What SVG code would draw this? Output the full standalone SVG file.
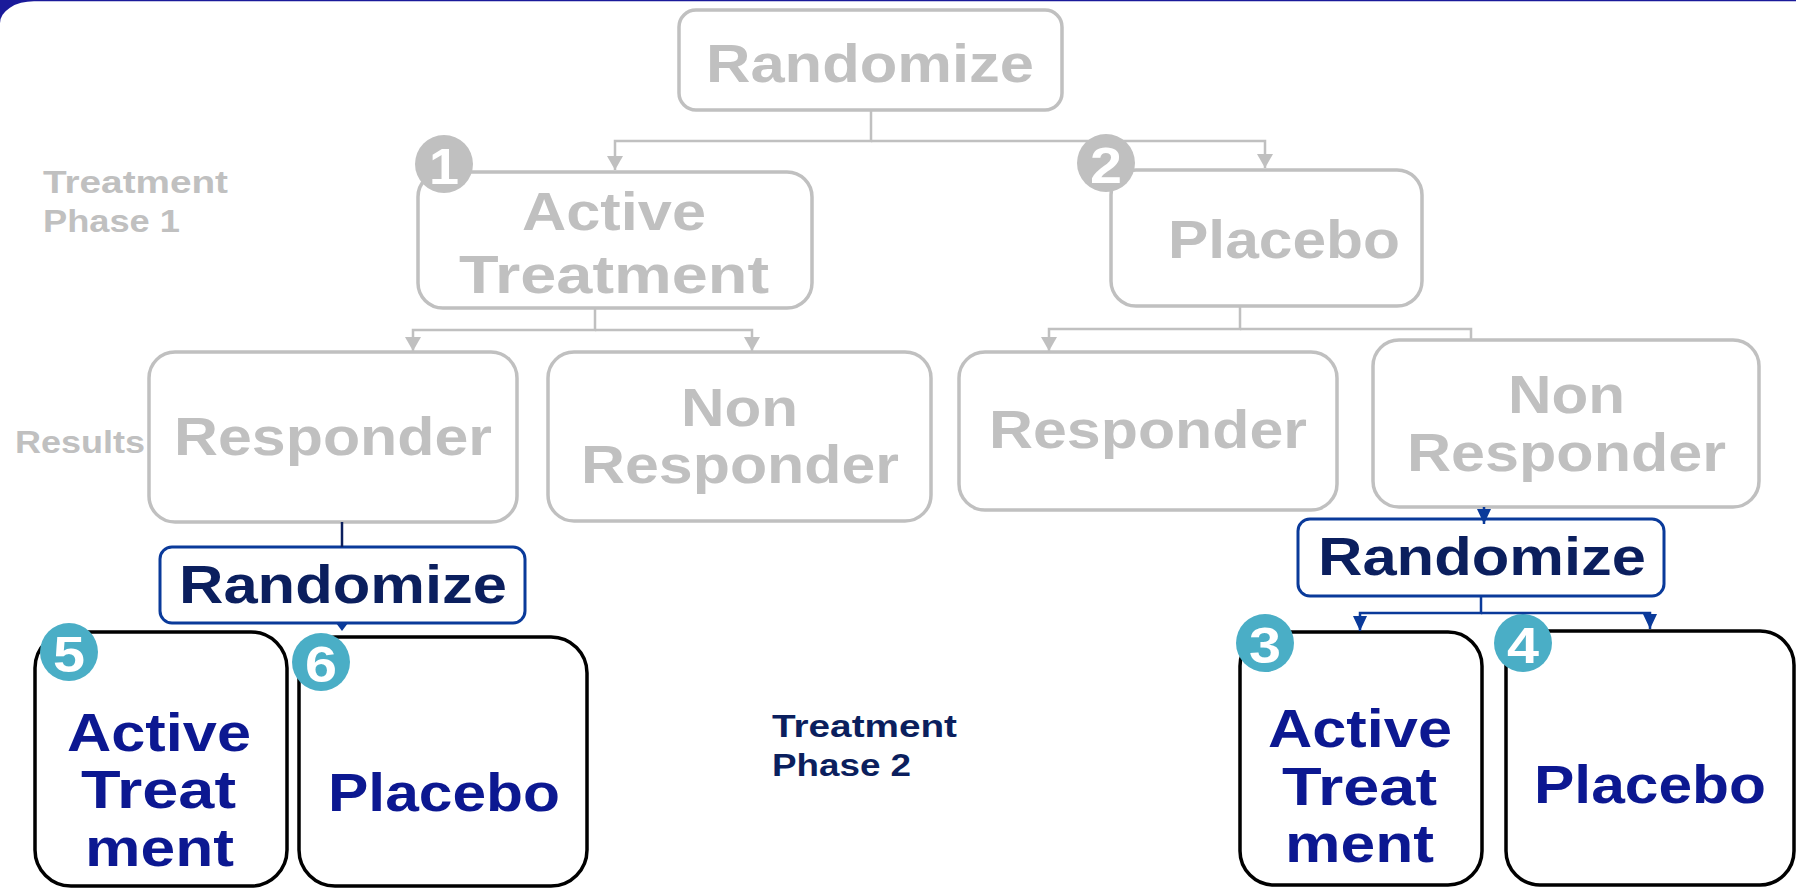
<svg xmlns="http://www.w3.org/2000/svg" width="1796" height="889" viewBox="0 0 1796 889">
<defs>
<style>
.gbox{fill:#fff;stroke:#c0c0c0;stroke-width:3.5}
.bbox{fill:#fff;stroke:#0a3a9a;stroke-width:3}
.kbox{fill:#fff;stroke:#000;stroke-width:3.5}
.t{font-family:"Liberation Sans",Arial,sans-serif;font-weight:bold;font-size:53px}
.g{fill:#c0c0c0}
.nv{fill:#0b1f5e}
.bl{fill:#0c1891}
.lbl{font-family:"Liberation Sans",Arial,sans-serif;font-weight:bold;font-size:32px}
.num{font-family:"Liberation Sans",Arial,sans-serif;font-weight:bold;font-size:50px;fill:#fff;text-anchor:middle}
.gc{fill:none;stroke:#c0c0c0;stroke-width:2.5}
.bc{fill:none;stroke:#0a3a9a;stroke-width:2.5}
</style>
<marker id="ag" markerUnits="userSpaceOnUse" markerWidth="16" markerHeight="14" refX="8" refY="14" orient="0" viewBox="0 0 16 14">
<path d="M0 0 L16 0 L8 14 Z" fill="#c0c0c0"/>
</marker>
<marker id="ab" markerUnits="userSpaceOnUse" markerWidth="14" markerHeight="15" refX="7" refY="15" viewBox="0 0 14 15" orient="0">
<path d="M0 0 L14 0 L7 15 Z" fill="#0a3a9a"/>
</marker>
</defs>

<rect x="0" y="0" width="1796" height="889" fill="#1a1a9a"/>
<rect x="0" y="1.2" width="1900" height="1000" rx="34" ry="22" fill="#fff"/>

<g id="labels">
<text class="lbl g" x="43" y="193" textLength="185" lengthAdjust="spacingAndGlyphs">Treatment</text>
<text class="lbl g" x="43" y="232" textLength="137" lengthAdjust="spacingAndGlyphs">Phase 1</text>
<text class="lbl g" x="15" y="453" font-size="30" textLength="130" lengthAdjust="spacingAndGlyphs">Results</text>
<text class="lbl nv" x="772" y="737" textLength="185" lengthAdjust="spacingAndGlyphs">Treatment</text>
<text class="lbl nv" x="772" y="776" textLength="139" lengthAdjust="spacingAndGlyphs">Phase 2</text>
</g>

<g id="randomize-top">
<rect class="gbox" x="679" y="10" width="383" height="100" rx="17"/>
<text class="t g" x="706" y="82" textLength="328" lengthAdjust="spacingAndGlyphs">Randomize</text>
</g>

<g id="active-treatment-1">
<rect class="gbox" x="418" y="172" width="394" height="136" rx="25"/>
<text class="t g" x="522" y="230" textLength="184" lengthAdjust="spacingAndGlyphs">Active</text>
<text class="t g" x="459" y="293" textLength="310" lengthAdjust="spacingAndGlyphs">Treatment</text>
<circle cx="444" cy="164" r="29" fill="#c0c0c0"/>
<text class="num" x="444" y="184" textLength="30" lengthAdjust="spacingAndGlyphs">1</text>
</g>

<g id="placebo-1">
<rect class="gbox" x="1111" y="170" width="311" height="136" rx="25"/>
<text class="t g" x="1168" y="258" textLength="232" lengthAdjust="spacingAndGlyphs">Placebo</text>
<circle cx="1106" cy="163" r="29" fill="#c0c0c0"/>
<text class="num" x="1106" y="183" textLength="32" lengthAdjust="spacingAndGlyphs">2</text>
</g>

<g id="responder-left">
<rect class="gbox" x="149" y="352" width="368" height="170" rx="26"/>
<text class="t g" x="174" y="455" textLength="318" lengthAdjust="spacingAndGlyphs">Responder</text>
</g>

<g id="non-responder-left">
<rect class="gbox" x="548" y="352" width="383" height="169" rx="26"/>
<text class="t g" x="681" y="426" textLength="117" lengthAdjust="spacingAndGlyphs">Non</text>
<text class="t g" x="581" y="483" textLength="318" lengthAdjust="spacingAndGlyphs">Responder</text>
</g>

<g id="responder-right">
<rect class="gbox" x="959" y="352" width="378" height="158" rx="26"/>
<text class="t g" x="989" y="448" textLength="318" lengthAdjust="spacingAndGlyphs">Responder</text>
</g>

<g id="non-responder-right">
<rect class="gbox" x="1373" y="340" width="386" height="167" rx="26"/>
<text class="t g" x="1508" y="413" textLength="117" lengthAdjust="spacingAndGlyphs">Non</text>
<text class="t g" x="1407" y="471" textLength="319" lengthAdjust="spacingAndGlyphs">Responder</text>
</g>

<g id="randomize-left">
<rect class="bbox" x="160" y="547" width="365" height="76" rx="12"/>
<text class="t nv" x="179" y="603" textLength="328" lengthAdjust="spacingAndGlyphs">Randomize</text>
</g>

<g id="randomize-right">
<rect class="bbox" x="1298" y="519" width="366" height="77" rx="12"/>
<text class="t nv" x="1318" y="575" textLength="328" lengthAdjust="spacingAndGlyphs">Randomize</text>
</g>

<g id="active-treatment-5">
<rect class="kbox" x="35" y="632" width="252" height="254" rx="36"/>
<text class="t bl" x="67" y="751" textLength="184" lengthAdjust="spacingAndGlyphs">Active</text>
<text class="t bl" x="81" y="808" textLength="155" lengthAdjust="spacingAndGlyphs">Treat</text>
<text class="t bl" x="85" y="866" textLength="149" lengthAdjust="spacingAndGlyphs">ment</text>
<circle cx="69" cy="652" r="29" fill="#4aaec6"/>
<text class="num" x="69" y="672" textLength="32" lengthAdjust="spacingAndGlyphs">5</text>
</g>

<g id="placebo-6">
<rect class="kbox" x="299" y="637" width="288" height="249" rx="36"/>
<text class="t bl" x="328" y="811" textLength="232" lengthAdjust="spacingAndGlyphs">Placebo</text>
<circle cx="321" cy="662" r="29" fill="#4aaec6"/>
<text class="num" x="321" y="682" textLength="32" lengthAdjust="spacingAndGlyphs">6</text>
</g>

<g id="active-treatment-3">
<rect class="kbox" x="1240" y="632" width="242" height="253" rx="34"/>
<text class="t bl" x="1268" y="747" textLength="184" lengthAdjust="spacingAndGlyphs">Active</text>
<text class="t bl" x="1282" y="805" textLength="155" lengthAdjust="spacingAndGlyphs">Treat</text>
<text class="t bl" x="1285" y="862" textLength="149" lengthAdjust="spacingAndGlyphs">ment</text>
<circle cx="1265" cy="643" r="29" fill="#4aaec6"/>
<text class="num" x="1265" y="663" textLength="32" lengthAdjust="spacingAndGlyphs">3</text>
</g>

<g id="placebo-4">
<rect class="kbox" x="1506" y="631" width="288" height="254" rx="34"/>
<text class="t bl" x="1534" y="803" textLength="232" lengthAdjust="spacingAndGlyphs">Placebo</text>
<circle cx="1523" cy="643" r="29" fill="#4aaec6"/>
<text class="num" x="1523" y="663" textLength="32" lengthAdjust="spacingAndGlyphs">4</text>
</g>

<g id="connectors">
<path class="gc" d="M871 110 V141 H615 V170" marker-end="url(#ag)"/>
<path class="gc" d="M871 141 H1265 V168" marker-end="url(#ag)"/>
<path class="gc" d="M595 308 V330 H413 V351" marker-end="url(#ag)"/>
<path class="gc" d="M595 330 H752 V351" marker-end="url(#ag)"/>
<path class="gc" d="M1240 305 V329 H1049 V351" marker-end="url(#ag)"/>
<path class="gc" d="M1240 329 H1471 V339"/>
<path d="M342 522 V547" fill="none" stroke="#0b1f5e" stroke-width="2.5"/>
<path d="M336 623 L348 623 L342 631 Z" fill="#0a3a9a"/>
<path class="bc" d="M1484 507 V524" marker-end="url(#ab)"/>
<path class="bc" d="M1481 596 V613 H1360 V631" marker-end="url(#ab)"/>
<path class="bc" d="M1481 613 H1650 V629" marker-end="url(#ab)"/>
</g>
</svg>
